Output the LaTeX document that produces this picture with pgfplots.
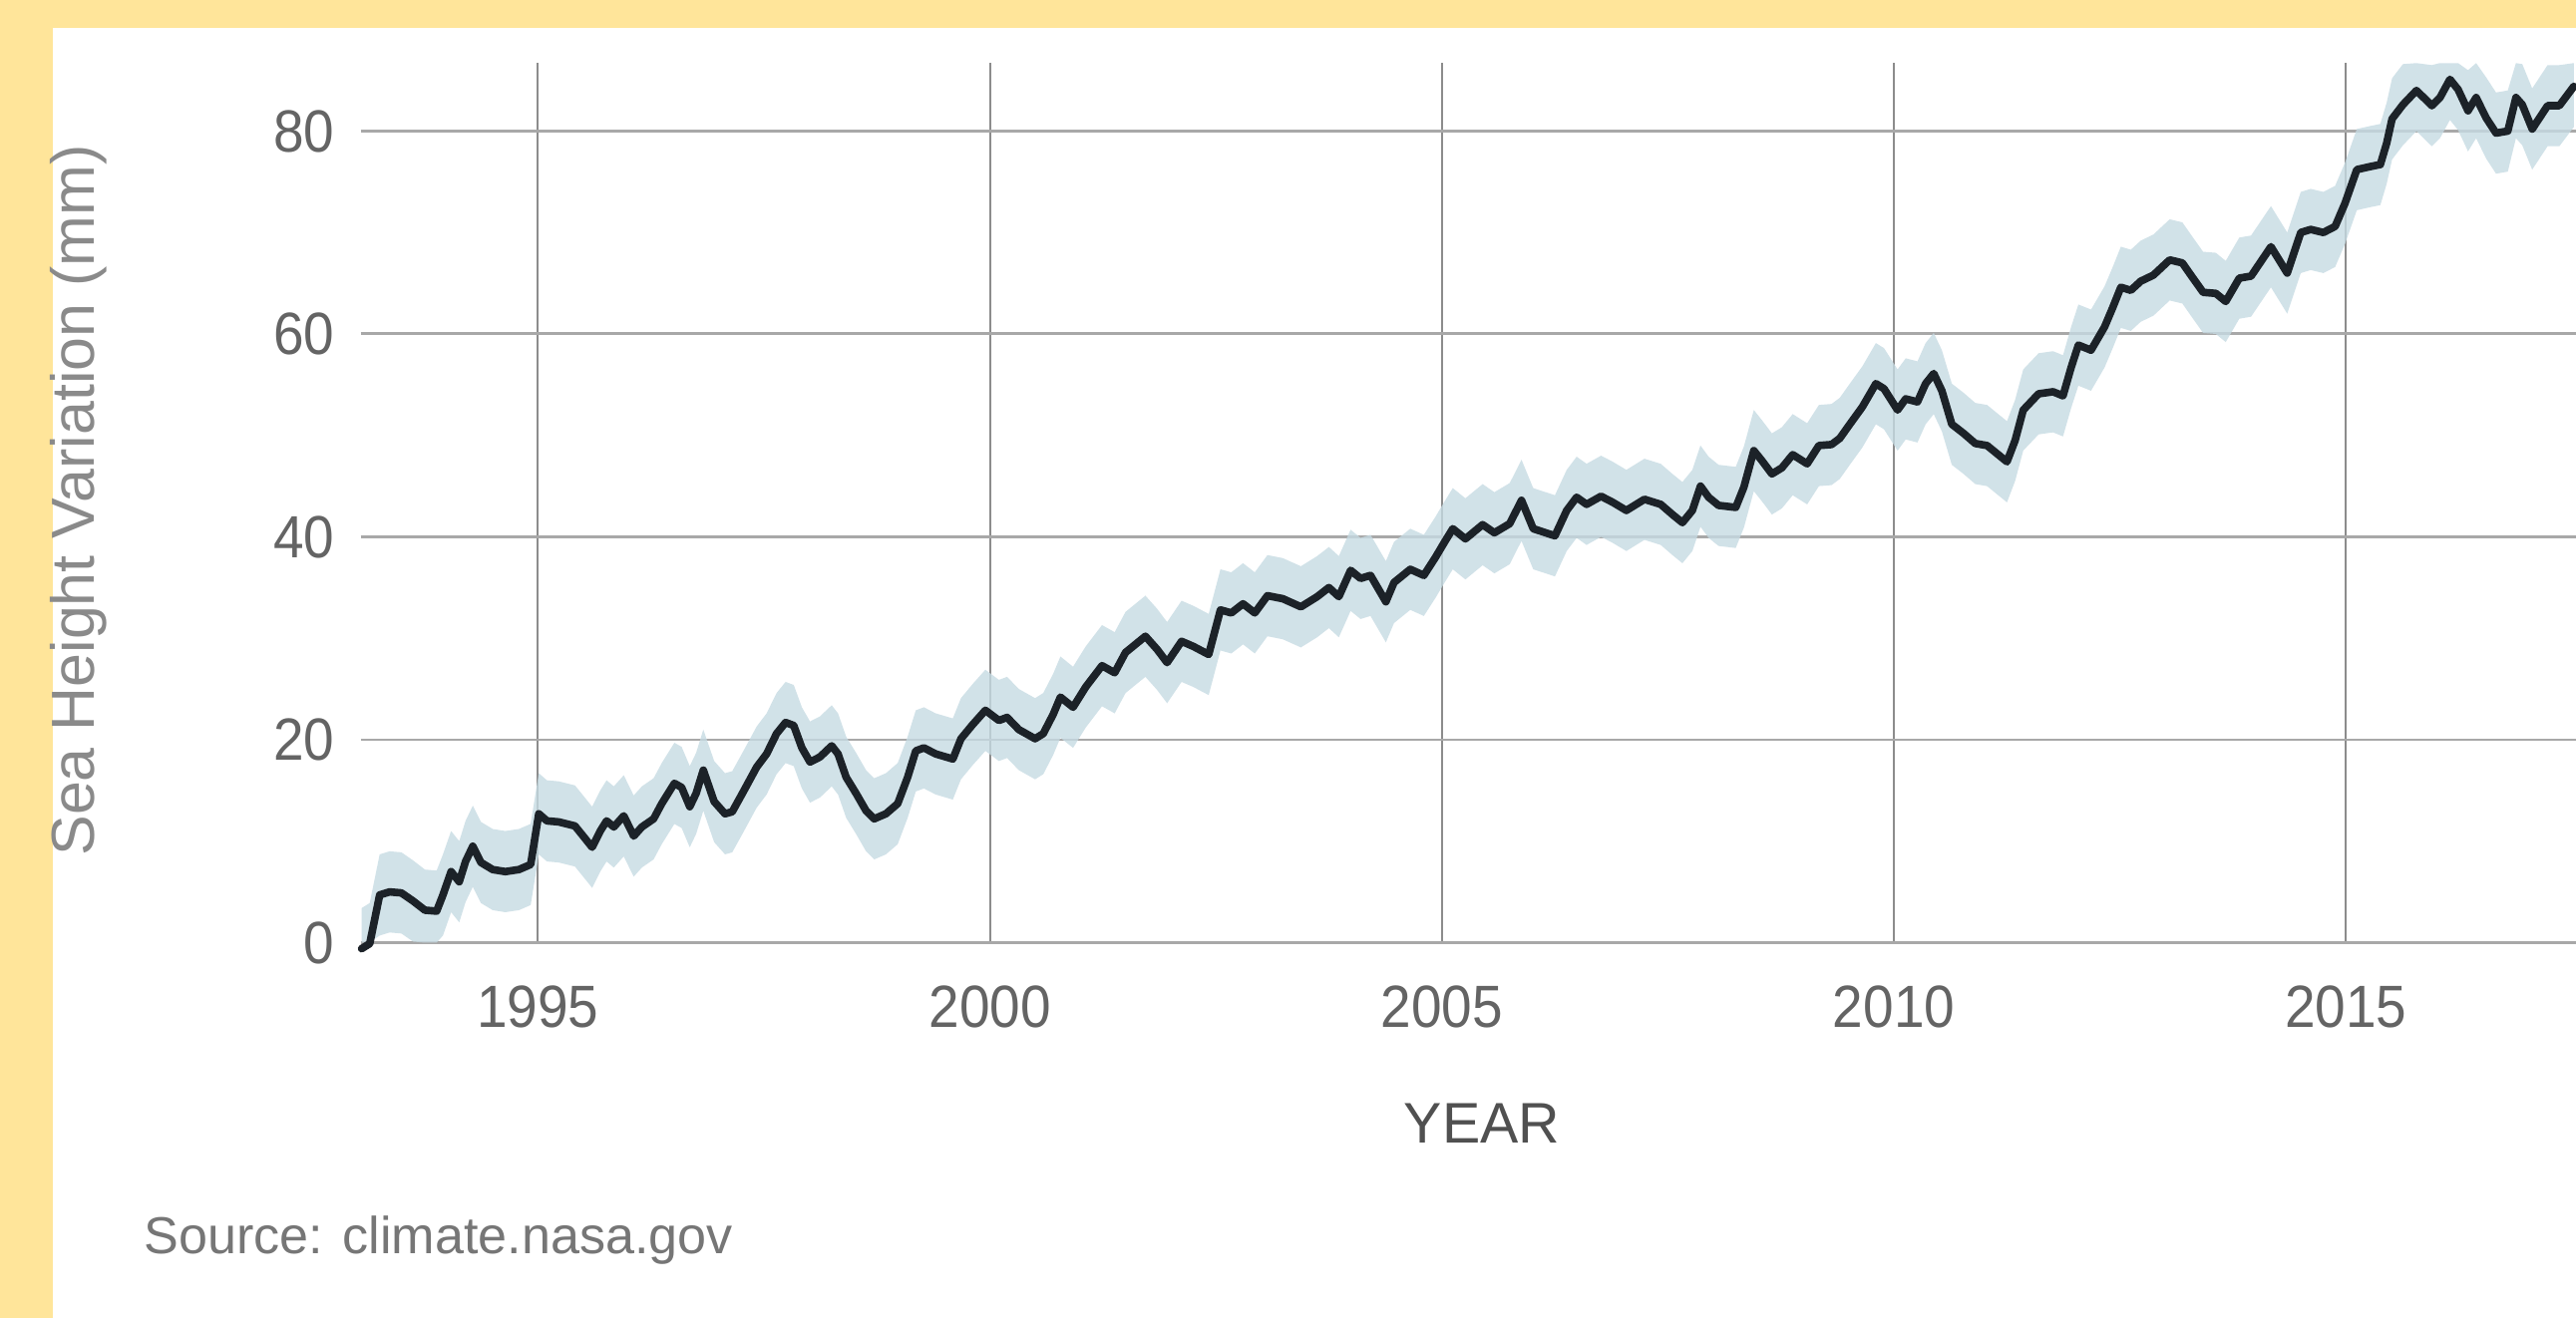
\documentclass[border=0pt]{standalone}
\usepackage{fontspec}
\setmainfont{Liberation Sans}
\newfontfamily\narrow[FakeStretch=0.92]{Liberation Sans}
\usepackage{pgfplots}
\pgfplotsset{compat=1.18}
\usepackage{pgfplotstable}
\usepgfplotslibrary{fillbetween}
\definecolor{framey}{RGB}{255,229,154}
\definecolor{bandc}{RGB}{198,219,227}
\definecolor{sealine}{RGB}{28,34,40}
\definecolor{tickc}{RGB}{100,100,100}
\definecolor{ylabc}{RGB}{138,138,138}
\definecolor{yearc}{RGB}{80,80,80}
\definecolor{srcc}{RGB}{118,118,118}
\definecolor{hgrid}{RGB}{168,168,168}
\definecolor{vgrid}{RGB}{140,140,140}

\pgfplotstableread{
year v
1993.05 -0.6
1993.14 -0.1
1993.25 4.7
1993.36 5.0
1993.49 4.9
1993.62 4.1
1993.75 3.2
1993.88 3.1
1993.95 4.7
1994.04 7.0
1994.13 6.0
1994.20 8.0
1994.28 9.5
1994.37 7.9
1994.50 7.2
1994.64 7.0
1994.79 7.2
1994.92 7.7
1995.01 12.7
1995.10 12.0
1995.23 11.9
1995.41 11.5
1995.51 10.4
1995.60 9.4
1995.69 11.0
1995.76 12.0
1995.84 11.4
1995.95 12.5
1996.06 10.5
1996.15 11.4
1996.28 12.2
1996.37 13.7
1996.51 15.7
1996.59 15.3
1996.68 13.4
1996.75 14.7
1996.83 17.0
1996.95 13.9
1997.07 12.7
1997.15 12.9
1997.28 15.0
1997.42 17.3
1997.53 18.6
1997.64 20.6
1997.74 21.7
1997.83 21.4
1997.92 19.2
1998.01 17.8
1998.12 18.3
1998.25 19.4
1998.32 18.6
1998.41 16.3
1998.52 14.7
1998.63 13.0
1998.72 12.2
1998.85 12.7
1998.98 13.7
1999.09 16.3
1999.18 18.9
1999.27 19.2
1999.40 18.6
1999.59 18.1
1999.68 20.1
1999.81 21.5
1999.95 22.9
2000.10 21.9
2000.19 22.2
2000.32 21.0
2000.50 20.1
2000.59 20.6
2000.70 22.5
2000.78 24.2
2000.92 23.2
2001.06 25.2
2001.24 27.3
2001.38 26.6
2001.50 28.6
2001.72 30.2
2001.85 28.9
2001.96 27.6
2002.12 29.7
2002.25 29.2
2002.42 28.4
2002.55 32.8
2002.67 32.5
2002.80 33.4
2002.93 32.5
2003.07 34.2
2003.24 33.9
2003.44 33.1
2003.62 34.1
2003.75 35.0
2003.86 34.1
2003.99 36.7
2004.10 35.9
2004.21 36.2
2004.38 33.6
2004.47 35.5
2004.65 36.8
2004.80 36.2
2004.93 38.0
2005.03 39.5
2005.12 40.8
2005.26 39.8
2005.45 41.2
2005.58 40.4
2005.75 41.3
2005.88 43.6
2006.01 40.8
2006.25 40.1
2006.38 42.6
2006.49 43.9
2006.60 43.2
2006.76 44.0
2006.89 43.4
2007.04 42.6
2007.24 43.7
2007.42 43.2
2007.55 42.2
2007.66 41.4
2007.77 42.6
2007.86 45.0
2007.95 43.9
2008.06 43.1
2008.25 42.9
2008.34 44.9
2008.45 48.5
2008.54 47.5
2008.65 46.2
2008.76 46.8
2008.88 48.1
2009.04 47.2
2009.17 49.0
2009.31 49.1
2009.40 49.7
2009.52 51.2
2009.65 52.8
2009.80 55.1
2009.89 54.6
2010.04 52.5
2010.13 53.6
2010.26 53.3
2010.35 55.1
2010.44 56.1
2010.53 54.4
2010.64 51.1
2010.77 50.2
2010.90 49.2
2011.03 49.0
2011.14 48.2
2011.25 47.4
2011.34 49.5
2011.43 52.5
2011.60 54.1
2011.76 54.3
2011.87 53.9
2011.96 56.7
2012.04 58.9
2012.18 58.4
2012.33 60.7
2012.42 62.6
2012.51 64.6
2012.62 64.3
2012.73 65.2
2012.87 65.8
2013.05 67.3
2013.19 67.0
2013.30 65.6
2013.42 64.1
2013.56 64.0
2013.67 63.2
2013.82 65.5
2013.95 65.7
2014.17 68.6
2014.35 66.0
2014.50 70.0
2014.61 70.3
2014.75 70.0
2014.88 70.6
2014.99 72.9
2015.12 76.2
2015.27 76.5
2015.38 76.7
2015.45 78.8
2015.51 81.2
2015.63 82.6
2015.78 84.0
2015.95 82.5
2016.04 83.3
2016.15 85.1
2016.24 84.1
2016.35 82.0
2016.44 83.3
2016.55 81.3
2016.66 79.8
2016.79 80.0
2016.88 83.3
2016.95 82.6
2017.06 80.2
2017.23 82.5
2017.36 82.5
2017.52 84.4
}\sealevel

\begin{document}
\begin{tikzpicture}
\begin{axis}[
  at={(21.70mm,22.59mm)}, anchor=south west,
  scale only axis, width=133.28mm, height=52.93mm,
  xmin=1993.04, xmax=2017.545, ymin=0, ymax=86.7,
  clip=false,
  set layers,
  axis line style={draw=none},
  major tick length=0pt,
  xtick={1995,2000,2005,2010,2015},
  ytick={0,20,40,60,80},
  scaled x ticks=false,
  grid=major,
  x grid style={draw=vgrid, line width=0.35pt},
  y grid style={draw=hgrid, line width=0.5pt},
  /pgf/number format/1000 sep={},
  /pgf/number format/assume math mode=true,
  ticklabel style={font=\narrow\fontsize{10.2}{12}\selectfont, text=tickc, inner sep=0pt},
  xticklabel style={anchor=north, yshift=-2.55mm},
  yticklabel style={anchor=east, xshift=-1.5mm},
]
\pgfonlayer{axis background}
\fill[framey] (rel axis cs:-0.16282,-0.42679) rectangle (rel axis cs:1,1.07179);
\fill[white] (rel axis cs:-0.13896,-0.42679) rectangle (rel axis cs:1,1.04005);
\endpgfonlayer
\addplot[name path=hi, draw=none, forget plot] table[x=year, y expr={min(\thisrow{v}+4,86.7)}] {\sealevel};
\addplot[name path=lo, draw=none, forget plot] table[x=year, y expr={max(\thisrow{v}-4,0)}] {\sealevel};
\addplot[fill=bandc, fill opacity=0.8, draw=none] fill between[of=hi and lo];
\addplot[sealine, line width=1.3pt, line join=round, line cap=round, mark=none] table[x=year, y=v] {\sealevel};
\end{axis}
\node[rotate=90, text=ylabc, font=\fontsize{10.4}{12}\selectfont, inner sep=0pt] at (4.74mm,49.2mm) {Sea Height Variation (mm)};
\node[text=yearc, font=\fontsize{9.8}{12}\selectfont, inner sep=0pt] at (89.16mm,11.70mm) {YEAR};
\node[anchor=base west, text=srcc, font=\fontsize{8.9}{11}\selectfont, inner sep=0pt] at (8.61mm,3.84mm) {Source: climate.nasa.gov};
\pgfresetboundingbox
\path[use as bounding box] (0,0) rectangle (154.98mm,79.32mm);
\end{tikzpicture}
\end{document}
